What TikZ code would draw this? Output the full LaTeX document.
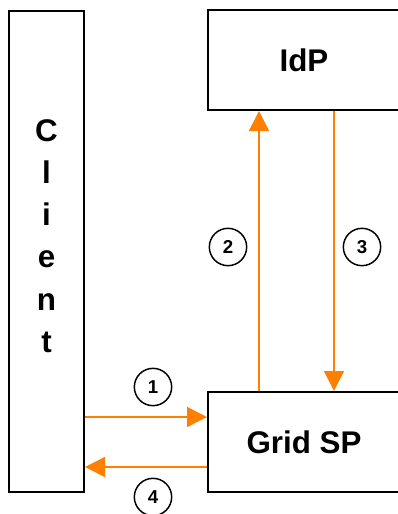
\documentclass[tikz,border=0pt]{standalone}
\usepackage{fontspec}
\setmainfont{Liberation Sans}
\usetikzlibrary{arrows.meta}
\definecolor{flow}{RGB}{255,128,0}

\tikzset{every picture/.style={line width=0.75pt}}

\begin{document}
\begin{tikzpicture}[x=0.75pt,y=0.75pt,yscale=-1,xscale=1,
  box/.style={draw,line width=1.5pt,inner sep=0pt,font=\fontsize{23.5}{28}\selectfont\bfseries},
  msg/.style={color=flow,line width=1.1pt,-{Triangle[length=15pt,width=15pt]}},
  num/.style={draw,circle,line width=1.1pt,minimum size=28pt,inner sep=0pt,font=\fontsize{14}{16}\selectfont\bfseries}]
\useasboundingbox (0,0) rectangle (398,514);

%Boxes
\node [box,minimum width=56.25pt,minimum height=360.75pt] (client) at (46.5,251) {};
\node [align=center,inner sep=0pt,font=\fontsize{23.5}{31.7}\selectfont\bfseries] (clienttxt) at (46.5,236) {C\\l\\i\\e\\n\\t};
\node [box,minimum width=144pt,minimum height=75pt] (idp) at (304,60) {IdP};
\node [box,minimum width=144pt,minimum height=75pt] (gridsp) at (304,442) {Grid SP};

%Message lines
\coordinate (m1) at (0,417);
\coordinate (m2) at (259,0);
\coordinate (m3) at (334,0);
\coordinate (m4) at (0,467);
\draw [msg] (client.east |- m1) -- (gridsp.west |- m1);
\draw [msg] (gridsp.north -| m2) -- (idp.south -| m2);
\draw [msg] (idp.south -| m3) -- (gridsp.north -| m3);
\draw [msg] (gridsp.west |- m4) -- (client.east |- m4);

%Step numbers
\node [num] (n1) at (153,387) {1};
\node [num] (n2) at (228,247) {2};
\node [num] (n3) at (362,247) {3};
\node [num] (n4) at (153,497) {4};

\end{tikzpicture}
\end{document}
